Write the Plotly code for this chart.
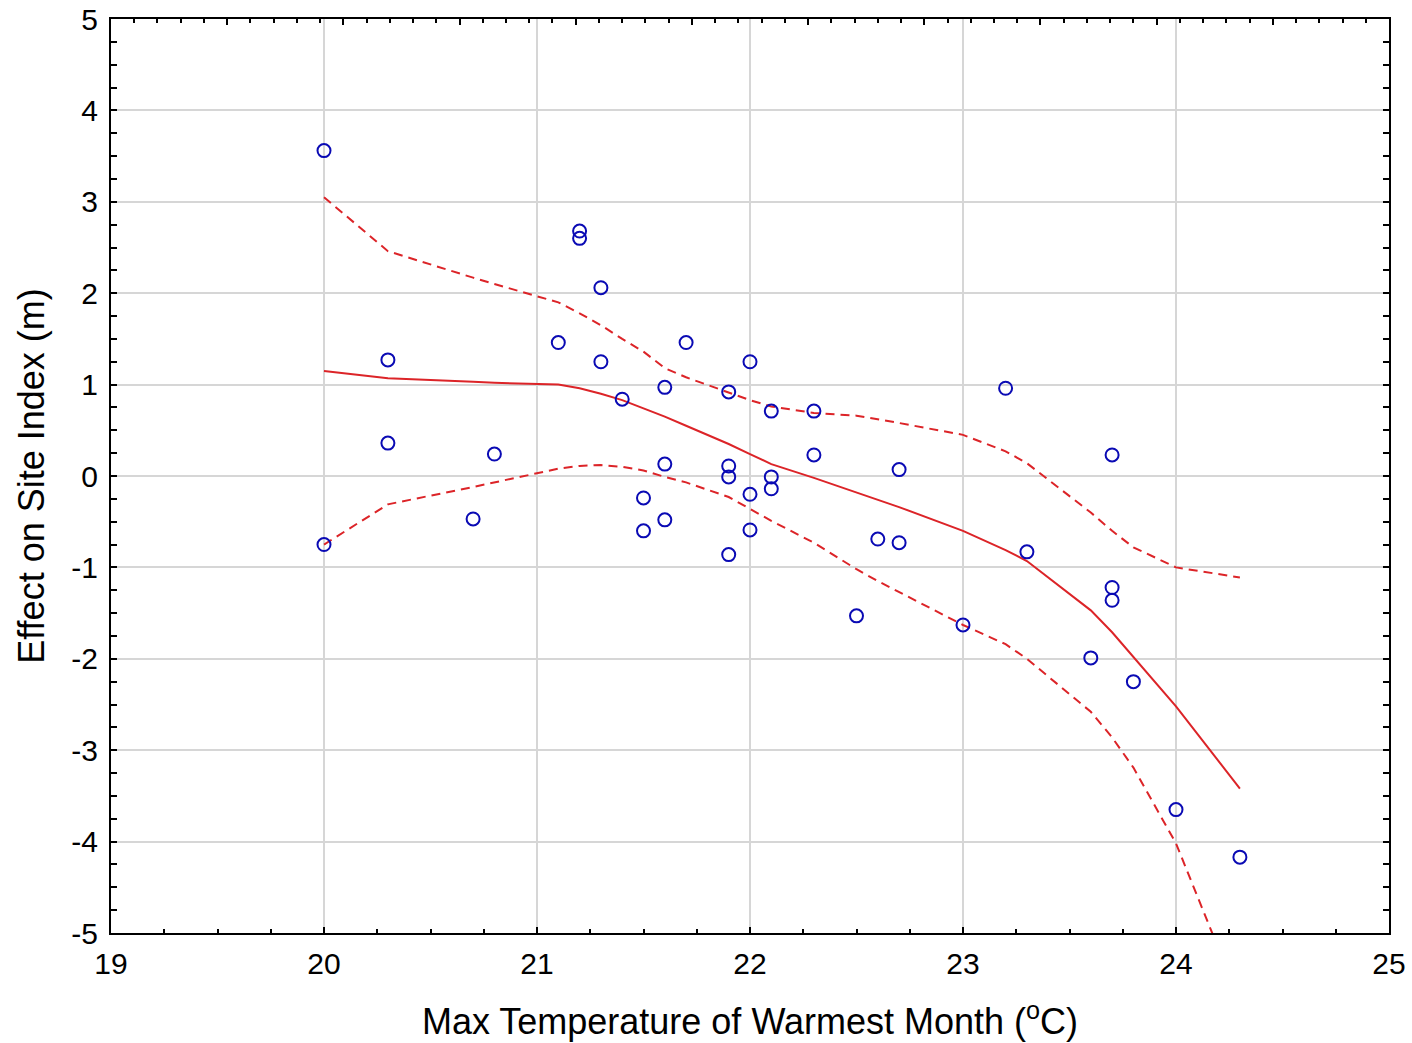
import plotly.graph_objects as go

# Observed partial effects
temp = [20.0, 20.0, 20.3, 20.3, 20.7, 20.8, 21.1, 21.2, 21.2, 21.3, 21.3, 21.4,
        21.5, 21.5, 21.6, 21.6, 21.6, 21.7, 21.9, 21.9, 21.9, 21.9, 22.0, 22.0,
        22.0, 22.1, 22.1, 22.1, 22.3, 22.3, 22.5, 22.6, 22.7, 22.7, 23.0, 23.2,
        23.3, 23.6, 23.7, 23.7, 23.7, 23.8, 24.0, 24.3]
effect = [3.56, -0.75, 1.27, 0.36, -0.47, 0.24, 1.46, 2.68, 2.60, 2.06, 1.25, 0.84,
          -0.24, -0.60, 0.97, 0.13, -0.48, 1.46, 0.92, 0.11, -0.01, -0.86, 1.25, -0.20,
          -0.59, 0.71, -0.01, -0.14, 0.71, 0.23, -1.53, -0.69, 0.07, -0.73, -1.63, 0.96,
          -0.83, -1.99, 0.23, -1.22, -1.36, -2.25, -3.65, -4.17]

# Smoothed fit with confidence band, evaluated at the distinct temperatures
fit_temp = [20.0, 20.3, 20.7, 20.8, 21.1, 21.2, 21.3, 21.4, 21.5, 21.6, 21.7, 21.9,
            22.0, 22.1, 22.3, 22.5, 22.6, 22.7, 23.0, 23.2, 23.3, 23.6, 23.7, 23.8,
            24.0, 24.3]
fit = [1.15, 1.07, 1.03, 1.02, 1.00, 0.96, 0.90, 0.83, 0.74, 0.65, 0.55, 0.35,
       0.24, 0.13, -0.02, -0.18, -0.26, -0.34, -0.60, -0.81, -0.93, -1.47, -1.71, -1.98,
       -2.52, -3.42]
upper = [3.05, 2.46, 2.17, 2.10, 1.90, 1.78, 1.65, 1.50, 1.36, 1.18, 1.08, 0.91,
         0.83, 0.76, 0.69, 0.66, 0.62, 0.58, 0.45, 0.27, 0.14, -0.40, -0.60, -0.78,
         -1.00, -1.11]
lower = [-0.75, -0.31, -0.12, -0.07, 0.08, 0.11, 0.12, 0.10, 0.06, -0.01, -0.07, -0.23,
         -0.36, -0.49, -0.73, -1.02, -1.15, -1.27, -1.63, -1.84, -2.00, -2.58, -2.86, -3.19,
         -4.02, -5.75]

x_ticks = [19, 20, 21, 22, 23, 24, 25]
y_ticks = [-5, -4, -3, -2, -1, 0, 1, 2, 3, 4, 5]
y_tick_labels = ["-5", "-4", "-3", "-2", "-1", "0", "1", "2", "3", "4", "5"]

RED = "#dc2428"
BLUE = "#0a0ab4"
FONT = "Liberation Sans, Arial, sans-serif"

fig = go.Figure()

fig.add_trace(go.Scatter(x=fit_temp, y=upper, mode="lines",
                         line=dict(color=RED, width=2, dash="9px,6px"),
                         hoverinfo="skip", showlegend=False))
fig.add_trace(go.Scatter(x=fit_temp, y=lower, mode="lines",
                         line=dict(color=RED, width=2, dash="9px,6px"),
                         hoverinfo="skip", showlegend=False))
fig.add_trace(go.Scatter(x=fit_temp, y=fit, mode="lines",
                         line=dict(color=RED, width=2),
                         hoverinfo="skip", showlegend=False))
fig.add_trace(go.Scatter(x=temp, y=effect, mode="markers",
                         marker=dict(symbol="circle-open", size=13, color=BLUE,
                                     line=dict(width=2, color=BLUE)),
                         showlegend=False))
# empty trace that anchors the top tick scale
fig.add_trace(go.Scatter(x=[19, 25], y=[None, None], xaxis="x2", mode="lines",
                         showlegend=False, hoverinfo="skip"))

fig.update_layout(
    width=1412, height=1043,
    margin=dict(l=111, r=23, t=19, b=110),
    paper_bgcolor="white", plot_bgcolor="white",
    font=dict(family=FONT, color="black", size=30),
    xaxis=dict(
        range=[19, 25], tickmode="array", tickvals=x_ticks,
        ticks="inside", ticklen=6, tickwidth=2, tickcolor="black",
        showline=True, linecolor="black", linewidth=2, mirror=True,
        showgrid=True, gridcolor="#d6d6d6", gridwidth=2, zeroline=False,
        tickfont=dict(size=30), ticklabelstandoff=3, automargin=False,
        minor=dict(dtick=0.25, tick0=19, ticks="inside", ticklen=4,
                   tickwidth=2, tickcolor="black", showgrid=False),
        title=dict(text="Max Temperature of Warmest Month (<sup>o</sup>C)",
                   font=dict(size=36), standoff=30),
    ),
    xaxis2=dict(
        overlaying="x", side="top", range=[19, 25], automargin=False,
        tickmode="linear", tick0=19, dtick=6 / 11,
        ticks="inside", ticklen=6, tickwidth=2, tickcolor="black",
        showticklabels=False, showgrid=False, showline=False, zeroline=False,
        minor=dict(dtick=6 / 55, tick0=19, ticks="inside", ticklen=4,
                   tickwidth=2, tickcolor="black", showgrid=False),
    ),
    yaxis=dict(
        range=[-5, 5], tickmode="array", tickvals=y_ticks, ticktext=y_tick_labels,
        ticks="inside", ticklen=6, tickwidth=2, tickcolor="black",
        showline=True, linecolor="black", linewidth=2, mirror="allticks",
        showgrid=True, gridcolor="#d6d6d6", gridwidth=2, zeroline=False,
        tickfont=dict(size=30), ticklabelstandoff=5, automargin=False,
        minor=dict(dtick=0.25, tick0=-5, ticks="inside", ticklen=4,
                   tickwidth=2, tickcolor="black", showgrid=False),
        title=dict(text="Effect on Site Index (m)", font=dict(size=36), standoff=16),
    ),
)

fig.write_html("out.html")
